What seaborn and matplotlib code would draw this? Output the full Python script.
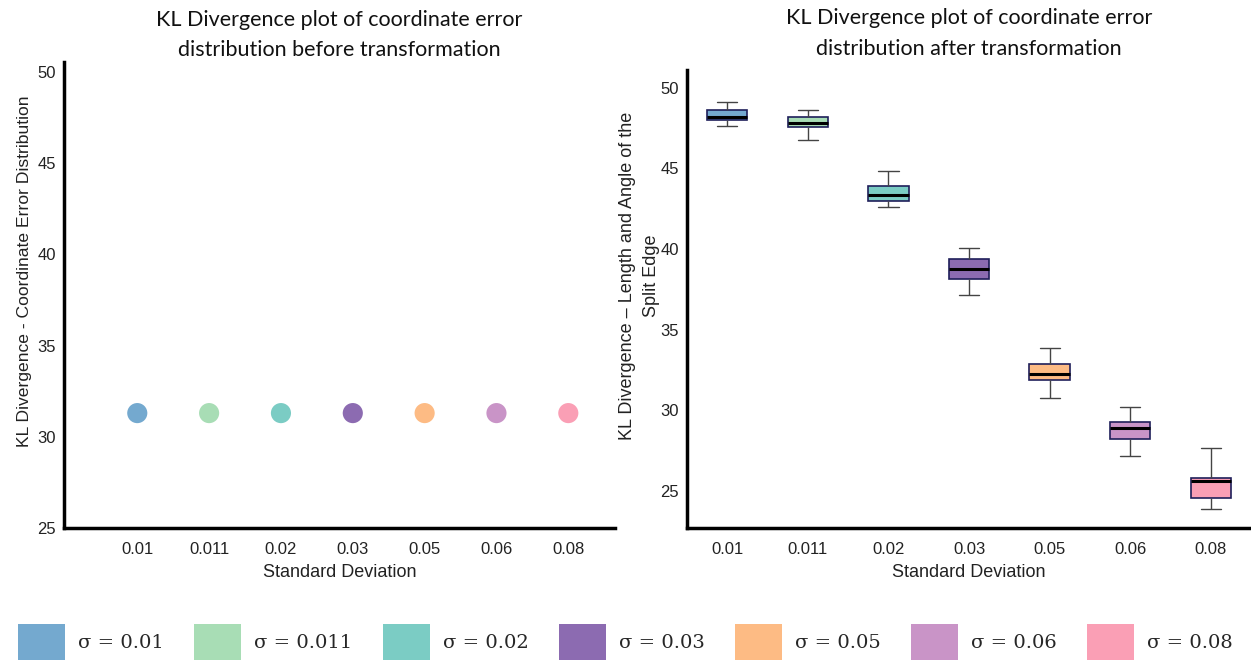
import matplotlib
matplotlib.use("Agg")
import matplotlib.pyplot as plt
import matplotlib.patches as mpatches
import seaborn as sns
import pandas as pd
import numpy as np

# ---- data ----
categories = ["0.01", "0.011", "0.02", "0.03", "0.05", "0.06", "0.08"]
legend_labels = ["σ = 0.01", "σ = 0.011", "σ = 0.02", "σ = 0.03", "σ = 0.05", "σ = 0.06", "σ = 0.08"]
colors = ["#74A9CF", "#A8DDB5", "#7BCCC4", "#8C6BB1", "#FDBB84", "#C994C7", "#FA9FB5"]

# before transformation: a single KL value per sigma
before_values = [31.3, 31.3, 31.3, 31.3, 31.3, 31.3, 31.3]

# after transformation: five-number summaries (min, q1, median, q3, max)
after_001 = [47.64, 48.01, 48.16, 48.63, 49.11]
after_0011 = [46.79, 47.55, 47.80, 48.17, 48.61]
after_002 = [42.58, 43.00, 43.35, 43.89, 44.82]
after_003 = [37.16, 38.17, 38.73, 39.38, 40.08]
after_005 = [30.78, 31.88, 32.25, 32.86, 33.89]
after_006 = [27.14, 28.20, 28.90, 29.25, 30.20]
after_008 = [23.87, 24.57, 25.61, 25.81, 27.68]
after_series = [after_001, after_0011, after_002, after_003, after_005, after_006, after_008]

y_ticks = [25, 30, 35, 40, 45, 50]

# ---- frames ----
df_before = pd.DataFrame({"sd": categories, "kl": before_values})
rows = []
for cat, vals in zip(categories, after_series):
    for v in vals:
        rows.append({"sd": cat, "kl": v})
df_after = pd.DataFrame(rows)

sns.set_theme(style="white")
plt.rcParams["font.family"] = ["Liberation Sans", "DejaVu Sans"]

fig = plt.figure(figsize=(12.51, 6.6), dpi=100)
ax1 = fig.add_axes([64 / 1251, 1 - 528 / 660, (615 - 64) / 1251, (528 - 62) / 660])
ax2 = fig.add_axes([687 / 1251, 1 - 528 / 660, (1251 - 687) / 1251, (528 - 70) / 660])

palette = dict(zip(categories, colors))

# left: points
sns.scatterplot(data=df_before, x="sd", y="kl", hue="sd", palette=palette,
                s=210, edgecolor="none", legend=False, ax=ax1)
ax1.set_xlim(-1.02, 6.65)
ax1.set_ylim(25, 50.55)

# right: boxplots
sns.boxplot(data=df_after, x="sd", y="kl", hue="sd", palette=palette, legend=False,
            width=0.5, whis=(0, 100), linewidth=1.0, saturation=1, ax=ax2,
            boxprops=dict(edgecolor="#1f1f5a", linewidth=1.2),
            whiskerprops=dict(color="#444444", linewidth=1.0),
            capprops=dict(color="#444444", linewidth=1.0),
            medianprops=dict(color="black", linewidth=2.2))
ax2.set_xlim(-0.5, 6.5)
ax2.set_ylim(22.7, 51.1)

for ax in (ax1, ax2):
    ax.set_yticks(y_ticks)
    ax.set_yticklabels([str(t) for t in y_ticks])
    sns.despine(ax=ax)
    for sp in ("left", "bottom"):
        ax.spines[sp].set_linewidth(2.5)
        ax.spines[sp].set_color("black")
    ax.tick_params(axis="both", direction="in", length=5, width=1, color="black",
                   labelsize=12, labelcolor="#222222", pad=6)
    ax.tick_params(axis="x", pad=10)
    ax.set_xlabel("Standard Deviation", fontsize=13, color="#222222", labelpad=5)
    ax.set_facecolor("white")

ax1.set_ylabel("KL Divergence - Coordinate Error Distribution", fontsize=12.6, color="#222222")
ax1.yaxis.set_label_coords(-0.058, 0.55)
ax2.set_ylabel("KL Divergence – Length and Angle of the\nSplit Edge", fontsize=13, color="#222222",
               linespacing=1.5)
ax2.yaxis.set_label_coords(-0.048, 0.55)

title_font = dict(family=["Lato", "DejaVu Sans"], fontsize=15.5, color="#111111", linespacing=1.65)
ax1.set_title("KL Divergence plot of coordinate error\ndistribution before transformation", pad=4, **title_font)
ax2.set_title("KL Divergence plot of coordinate error\ndistribution after transformation", pad=11, **title_font)

handles = [mpatches.Patch(facecolor=c, edgecolor="none", label=l) for c, l in zip(colors, legend_labels)]
fig.legend(handles=handles, loc="lower center", bbox_to_anchor=(0.5, 0.0), ncol=7, frameon=False,
           borderaxespad=0.0, borderpad=0.0,
           handlelength=2.42, handleheight=2.48, handletextpad=0.67, columnspacing=1.56,
           prop=dict(family=["DejaVu Serif"], size=14))

fig.savefig("out.png", dpi=100, facecolor="white")
